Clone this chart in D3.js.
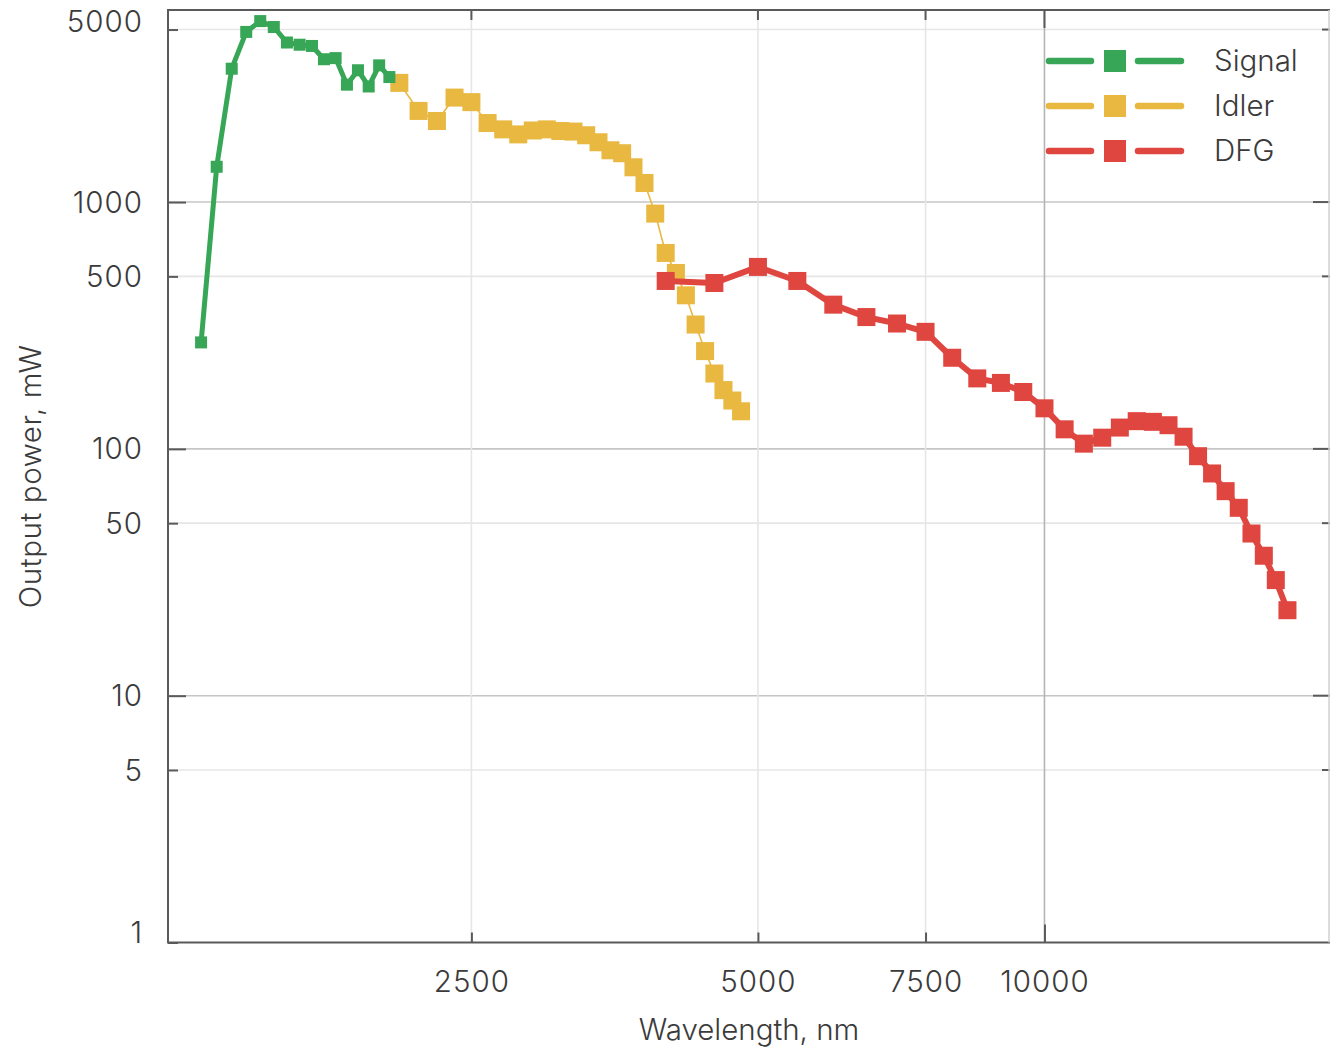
<!DOCTYPE html>
<html>
<head>
<meta charset="utf-8">
<script src="https://cdn.jsdelivr.net/npm/d3@7"></script>
<style>
  html, body { margin: 0; padding: 0; background: #ffffff; }
  svg { display: block; }
</style>
</head>
<body>
<script>
// ---------------- DATA ----------------
const signalWavelength = [1300, 1350, 1400, 1450, 1500, 1550, 1600, 1650, 1700, 1750, 1800, 1850, 1900, 1950, 2000, 2050];
const signalPower      = [270, 1390, 3470, 4890, 5410, 5120, 4430, 4340, 4290, 3790, 3830, 2990, 3420, 2940, 3580, 3210];

const idlerWavelength = [2100, 2200, 2300, 2400, 2500, 2600, 2700, 2800, 2900, 3000, 3100, 3200, 3300, 3400,
                         3500, 3600, 3700, 3800, 3900, 4000, 4100, 4200, 4300, 4400, 4500, 4600, 4700, 4800];
const idlerPower      = [3040, 2340, 2130, 2650, 2540, 2090, 1970, 1880, 1950, 1970, 1940, 1930, 1865, 1747,
                         1621, 1577, 1383, 1195, 898, 622, 516, 419, 319, 249, 202, 173, 157, 142];

const dfgWavelength = [4000, 4500, 5000, 5500, 6000, 6500, 7000, 7500, 8000, 8500, 9000, 9500, 10000, 10500,
                       11000, 11500, 12000, 12500, 13000, 13500, 14000, 14500, 15000, 15500, 16000, 16500,
                       17000, 17500, 18000];
const dfgPower      = [479, 470, 546, 479, 384, 342, 322, 298, 234, 193, 185, 170, 146, 120,
                       105, 111, 122, 129.5, 128.7, 124.7, 112, 93.4, 79.5, 67.4, 57.7, 45.4,
                       36.9, 29.4, 22.2];

const seriesNames = ["Signal", "Idler", "DFG"];

const xTickValues = [2500, 5000, 7500, 10000];
const xMajorTicks = [10000];
const yTickValues = [1, 5, 10, 50, 100, 500, 1000, 5000];
const yMajorTicks = [10, 100, 1000];

const xDomain = [1200, 20000];
const yDomain = [1, 6000];

// ---------------- LAYOUT ----------------
const W = 1330, H = 1050;
const mLeft = 168, mRight = 1331, mTop = 10, mBottom = 942.5;
const FONT = "Inter, 'Noto Sans', 'Liberation Sans', sans-serif";
const FS = 29.5;
const TEXT = "#3b3b3b";
const AXIS = "#5a5a5a";

const colors = { Signal: "#37a657", Idler: "#e8b840", DFG: "#df4640" };

const svg = d3.select("body").append("svg").attr("width", W).attr("height", H);

const x = d3.scaleLog().domain(xDomain).range([mLeft, mRight]);
const y = d3.scaleLog().domain(yDomain).range([mBottom, mTop]);

// ---------------- GRID ----------------
const grid = svg.append("g");
grid.append("g").selectAll("line").data(yTickValues.filter(d => d !== 1)).join("line")
  .attr("x1", mLeft).attr("x2", W)
  .attr("y1", d => y(d)).attr("y2", d => y(d))
  .attr("stroke", d => yMajorTicks.includes(d) ? "#c6c6c6" : "#e6e6e6")
  .attr("stroke-width", 1.6);
grid.append("g").selectAll("line").data(xTickValues).join("line")
  .attr("y1", mTop).attr("y2", mBottom)
  .attr("x1", d => x(d)).attr("x2", d => x(d))
  .attr("stroke", d => xMajorTicks.includes(d) ? "#b4b4b4" : "#e6e6e6")
  .attr("stroke-width", 1.6);

// ---------------- AXES ----------------
const yAxis = svg.append("g").attr("transform", `translate(${mLeft},0)`)
  .call(d3.axisLeft(y).tickValues(yTickValues).tickFormat(d => String(d)).tickSize(-10).tickPadding(25));
yAxis.select(".domain").remove();
yAxis.attr("font-family", FONT).attr("font-size", FS);
yAxis.selectAll(".tick line")
  .attr("x2", d => yMajorTicks.includes(d) ? 18 : 10)
  .attr("stroke", AXIS).attr("stroke-width", 2);
yAxis.selectAll(".tick text").attr("fill", TEXT).attr("font-weight", 300).attr("letter-spacing", 1)
  .attr("dy", d => d === 5000 ? "0.08em" : (d === 1 ? "0.0em" : "0.34em"));

const xAxis = svg.append("g").attr("transform", `translate(0,${mBottom})`)
  .call(d3.axisBottom(x).tickValues(xTickValues).tickFormat(d => String(d)).tickSize(-10).tickPadding(29));
xAxis.select(".domain").remove();
xAxis.attr("font-family", FONT).attr("font-size", FS);
xAxis.selectAll(".tick line")
  .attr("y2", d => xMajorTicks.includes(d) ? -18 : -10)
  .attr("stroke", AXIS).attr("stroke-width", 2);
xAxis.selectAll(".tick text").attr("fill", TEXT).attr("font-weight", 300).attr("letter-spacing", 1);

// top & right mirrored ticks
svg.append("g").selectAll("line").data(xTickValues).join("line")
  .attr("x1", d => x(d)).attr("x2", d => x(d))
  .attr("y1", mTop).attr("y2", d => mTop + (xMajorTicks.includes(d) ? 18 : 10))
  .attr("stroke", AXIS).attr("stroke-width", 2);
svg.append("g").selectAll("line").data(yTickValues.filter(d => d !== 1)).join("line")
  .attr("y1", d => y(d)).attr("y2", d => y(d))
  .attr("x1", d => W - (yMajorTicks.includes(d) ? 17 : 8)).attr("x2", W)
  .attr("stroke", AXIS).attr("stroke-width", 2);

// frame
svg.append("line").attr("x1", mLeft).attr("x2", mLeft).attr("y1", mTop - 1).attr("y2", mBottom + 1)
  .attr("stroke", AXIS).attr("stroke-width", 2);
svg.append("line").attr("x1", mLeft).attr("x2", W).attr("y1", mBottom).attr("y2", mBottom)
  .attr("stroke", AXIS).attr("stroke-width", 2);
svg.append("line").attr("x1", mLeft).attr("x2", W).attr("y1", mTop).attr("y2", mTop)
  .attr("stroke", AXIS).attr("stroke-width", 2);
svg.append("line").attr("x1", W - 1).attr("x2", W - 1).attr("y1", mTop).attr("y2", mBottom)
  .attr("stroke", "#d0d0d0").attr("stroke-width", 1.5);

// axis titles
svg.append("text").attr("x", (mLeft + W) / 2).attr("y", 1040)
  .attr("text-anchor", "middle").attr("font-family", FONT).attr("font-size", FS)
  .attr("font-weight", 300).attr("fill", TEXT).text("Wavelength, nm");
svg.append("text").attr("transform", `translate(41,${(mTop + mBottom) / 2}) rotate(-90)`)
  .attr("text-anchor", "middle").attr("font-family", FONT).attr("font-size", FS)
  .attr("font-weight", 300).attr("letter-spacing", 0.6).attr("fill", TEXT).text("Output power, mW");

// ---------------- SERIES ----------------
const line = d3.line().x(d => x(d[0])).y(d => y(d[1]));

function drawSeries(name, wl, pw, lineW, size) {
  const data = d3.zip(wl, pw);
  const g = svg.append("g");
  g.append("path").datum(data).attr("d", line)
    .attr("fill", "none").attr("stroke", colors[name]).attr("stroke-width", lineW)
    .attr("stroke-linejoin", "round").attr("stroke-linecap", "round");
  g.selectAll("rect").data(data).join("rect")
    .attr("x", d => x(d[0]) - size / 2).attr("y", d => y(d[1]) - size / 2)
    .attr("width", size).attr("height", size)
    .attr("fill", colors[name]);
}

drawSeries("Idler", idlerWavelength, idlerPower, 1.6, 18);
drawSeries("Signal", signalWavelength, signalPower, 5, 12);
drawSeries("DFG", dfgWavelength, dfgPower, 6, 18);

// ---------------- LEGEND ----------------
const legendY = [61, 106, 151];
const lg = svg.append("g");
seriesNames.forEach((name, i) => {
  const cy = legendY[i];
  const g = lg.append("g");
  g.append("line").attr("x1", 1049).attr("x2", 1091).attr("y1", cy).attr("y2", cy)
    .attr("stroke", colors[name]).attr("stroke-width", 6.5).attr("stroke-linecap", "round");
  g.append("line").attr("x1", 1138).attr("x2", 1181).attr("y1", cy).attr("y2", cy)
    .attr("stroke", colors[name]).attr("stroke-width", 6.5).attr("stroke-linecap", "round");
  g.append("rect").attr("x", 1104).attr("y", cy - 11).attr("width", 22).attr("height", 22)
    .attr("fill", colors[name]);
  g.append("text").attr("x", 1214).attr("y", cy).attr("dy", "0.35em")
    .attr("font-family", FONT).attr("font-size", FS).attr("font-weight", 300)
    .attr("fill", TEXT).text(name);
});
</script>
</body>
</html>
